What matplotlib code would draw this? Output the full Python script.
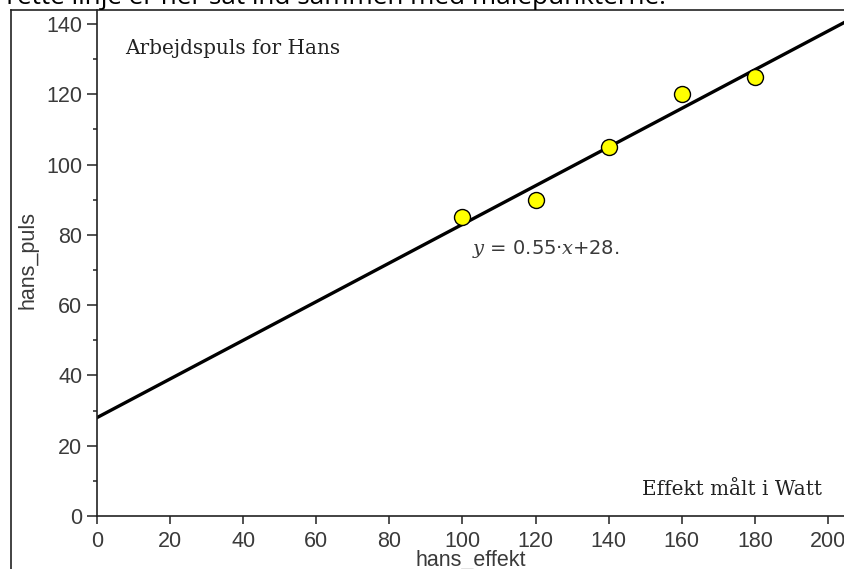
import numpy as np
import matplotlib
matplotlib.use('Agg')
import matplotlib.pyplot as plt
from matplotlib.lines import Line2D
from matplotlib.ticker import MultipleLocator

# Data
hans_effekt = [100, 120, 140, 160, 180]
hans_puls = [85, 90, 105, 120, 125]
slope = 0.55
intercept = 28
x_ticks = [0, 20, 40, 60, 80, 100, 120, 140, 160, 180, 200]
y_ticks = [0, 20, 40, 60, 80, 100, 120, 140]

W, H = 845, 569
plt.rcParams['mathtext.fontset'] = 'dejavuserif'

fig = plt.figure(figsize=(W / 100, H / 100), dpi=100, facecolor='w')

# axes placed so the data origin sits where the screenshot has it
left, right = 97, 845
bottom, top = 516, 10
ax = fig.add_axes([left / W, (H - bottom) / H, (right - left) / W, (bottom - top) / H])
ax.set_xlim(0, (right - left) / 3.655)
ax.set_ylim(0, (bottom - top) / 3.514)

for s in ['top', 'right']:
    ax.spines[s].set_visible(False)
for s in ['left', 'bottom']:
    ax.spines[s].set_linewidth(1.2)
    ax.spines[s].set_color('#222222')

ax.set_xticks(x_ticks)
ax.set_yticks(y_ticks)
ax.yaxis.set_minor_locator(MultipleLocator(10))
ax.tick_params(axis='x', direction='out', length=6, width=1.1, pad=5,
               labelsize=15.5, labelcolor='#3a3a3a', color='#222222')
ax.tick_params(axis='y', which='major', direction='out', length=7.5, width=1.1, pad=3,
               labelsize=15.5, labelcolor='#3a3a3a', color='#222222')
ax.tick_params(axis='y', which='minor', direction='out', length=3, width=1.1, color='#222222')
for lab in ax.get_xticklabels() + ax.get_yticklabels():
    lab.set_family('Liberation Sans')

# regression line and measured points
xs = np.array(ax.get_xlim())
ax.plot(xs, slope * xs + intercept, color='black', lw=2.4, zorder=2)
ax.plot(hans_effekt, hans_puls, linestyle='None', marker='o', ms=11.5,
        mfc='#ffff00', mec='black', mew=1.0, zorder=3)

ax.set_xlabel('hans_effekt', family='Liberation Sans', fontsize=15.5, color='#3a3a3a')
ax.xaxis.label.set_va('center')
ax.xaxis.set_label_coords(0.5, -44 / (bottom - top))
ax.set_ylabel('hans_puls', family='Liberation Sans', fontsize=15.5, color='#3a3a3a')
ax.yaxis.label.set_va('center')
ax.yaxis.set_label_coords((28 - left) / (right - left), (bottom - 260) / (bottom - top))

ax.text(7.7, 132.9, 'Arbejdspuls for Hans', family='DejaVu Serif', fontsize=14.4,
        color='#222222', ha='left', va='center')
ax.text(198.4, 7.4, 'Effekt målt i Watt', family='DejaVu Serif', fontsize=14.4,
        color='#222222', ha='right', va='center')
ax.text(102.6, 76, r'$y$ = 0.55·$x$+28.', family='DejaVu Sans', fontsize=14,
        color='#3a3a3a', ha='left', va='center')

# outer frame of the screenshot
fig.add_artist(Line2D([11 / W, 11 / W], [0, 1 - 10 / H], transform=fig.transFigure,
                      color='#222222', lw=1.2))
fig.add_artist(Line2D([11 / W, 1], [1 - 10 / H, 1 - 10 / H], transform=fig.transFigure,
                      color='#222222', lw=1.2))

# caption cut off at the top edge
fig.text(666 / W, 1 - 3.5 / H, 'Den rette linje er her sat ind sammen med målepunkterne.',
         family='Open Sans', fontsize=18.8, ha='right', va='baseline', color='black')

fig.savefig('out.png', dpi=100, facecolor='w')
